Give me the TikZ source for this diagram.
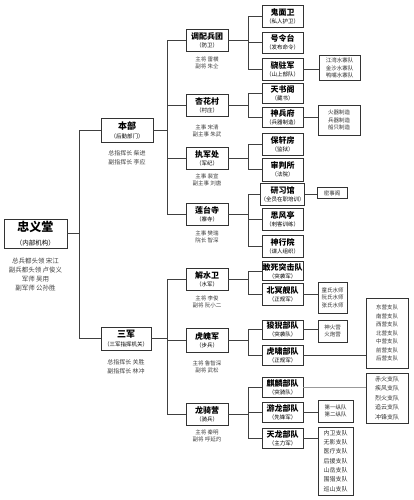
\documentclass[tikz,border=0pt]{standalone}
\usepackage{fontspec}
\setmainfont{Noto Sans CJK SC}
\usetikzlibrary{positioning}

% second line of a box: the smaller caption in brackets
\newcommand{\subt}[1]{\\[-1pt]{\mdseries\fontsize{5.5}{6.5}\selectfont #1}}

\begin{document}
\begin{tikzpicture}[
  x=1pt, y=-1pt,
  font=\fontsize{6}{7}\selectfont,
  rootbox/.style={draw=black!80, line width=0.8pt, fill=white, align=center,
    inner sep=0pt, minimum width=63, minimum height=29,
    font=\bfseries\fontsize{12}{13}\selectfont},
  deptbox/.style={draw=black!80, line width=0.8pt, fill=white, align=center,
    inner sep=0pt, minimum width=52, minimum height=24,
    font=\bfseries\fontsize{9}{10}\selectfont},
  unitbox/.style={draw=black!80, line width=0.8pt, fill=white, align=center,
    inner sep=0pt, minimum width=42, minimum height=22,
    font=\bfseries\fontsize{8}{9}\selectfont},
  teambox/.style={draw=black!80, line width=0.8pt, fill=white, align=center,
    inner sep=0pt, minimum width=41, minimum height=21,
    font=\bfseries\fontsize{8}{9}\selectfont},
  listbox/.style={draw=black!80, line width=0.6pt, fill=white, align=center,
    inner sep=1pt, text=black!80, font=\fontsize{5.5}{7.5}\selectfont},
  note/.style={align=center, inner sep=0pt, text=black!75,
    font=\fontsize{5.5}{7}\selectfont},
  link/.style={draw=black!75, line width=0.7pt},
  faintlink/.style={draw=black!40, line width=0.7pt},
]

\useasboundingbox (0,0) rectangle (413,500);

% ---- 1. bus lines (x of each vertical run) ----
\pgfmathsetmacro{\busA}{79}    % root -> departments
\pgfmathsetmacro{\busB}{167}   % departments -> units
\pgfmathsetmacro{\busC}{248}   % units -> teams
\coordinate (busA) at (\busA,0);
\coordinate (busB) at (\busB,0);
\coordinate (busC) at (\busC,0);

% ---- 2. root and departments ----
\node[rootbox] (zyt) at (35.5,233.5) {忠义堂\\[1pt]{\mdseries\fontsize{6.5}{7.5}\selectfont （内部机构）}};
\node[note, below=9pt of zyt, font=\fontsize{6.5}{9}\selectfont] (zytN)
  {总兵都头领\ 宋江\\副兵都头领\ 卢俊义\\军师\ 吴用\\副军师\ 公孙胜};

\node[deptbox] (bb) at (127,130.5) {本部\subt{（后勤部门）}};
\node[note, below=7pt of bb, font=\fontsize{6}{9}\selectfont] (bbN)
  {总指挥长\ 柴进\\副指挥长\ 李应};

\node[deptbox, minimum width=50, minimum height=23] (sj) at (126,338.5) {三军\subt{（三军指挥机关）}};
\node[note, below=9pt of sj, font=\fontsize{6}{9}\selectfont] (sjN)
  {总指挥长\ 关胜\\副指挥长\ 林冲};

% ---- 3. units ----
\node[unitbox] (tpbt) at (207,40)    {调配兵团\subt{（防卫）}};
\node[unitbox] (xhc)  at (207,105.5) {杏花村\subt{（村庄）}};
\node[unitbox] (zjc)  at (207,158)   {执军处\subt{（军纪）}};
\node[unitbox] (ltss) at (207,214)   {莲台寺\subt{（寨寺）}};
\node[unitbox] (jsw)  at (207,279)   {解水卫\subt{（水军）}};
\node[unitbox, minimum height=24] (hpj) at (207,340) {虎魄军\subt{（步兵）}};
\node[unitbox] (lqy)  at (207,414)   {龙骑营\subt{（骑兵）}};

\node[note, below=5pt of tpbt] (tpbtN) {主将\ 雷横\\副将\ 朱仝};
\node[note, below=8pt of xhc]  (xhcN)  {主事\ 宋清\\副主事\ 朱武};
\node[note, below=4pt of zjc]  (zjcN)  {主事\ 裴宣\\副主事\ 刘唐};
\node[note, below=5pt of ltss] (ltssN) {主事\ 樊瑞\\院长\ 智深};
\node[note, below=5pt of jsw]  (jswN)  {主将\ 李俊\\副将\ 阮小二};
\node[note, below=8pt of hpj]  (hpjN)  {主将\ 鲁智深\\副将\ 武松};
\node[note, below=4pt of lqy]  (lqyN)  {主将\ 秦明\\副将\ 呼延灼};

% ---- 4. teams ----
\node[teambox, minimum height=22] (gmw)  at (282.5,16)    {鬼面卫\subt{（私人护卫）}};
\node[teambox] (hlt)  at (282.5,42.5)  {号令台\subt{（发布命令）}};
\node[teambox, minimum height=22] (xzj)  at (282.5,69)    {骁驻军\subt{（山上部队）}};
\node[teambox, minimum height=20] (tsg)  at (282.5,93)    {天书阁\subt{（藏书）}};
\node[teambox, minimum height=20] (sbf)  at (282.5,117)   {神兵府\subt{（兵器制造）}};
\node[teambox, minimum height=22] (bxf)  at (282.5,144)   {保轩房\subt{（监狱）}};
\node[teambox, minimum height=23] (spsh) at (282.5,169.5) {审判所\subt{（法院）}};
\node[teambox, minimum height=22] (yxg)  at (282.5,194)   {研习馆\subt{（全员在职培训）}};
\node[teambox, minimum height=22] (sft)  at (282.5,219)   {思风亭\subt{（刺客训练）}};
\node[teambox, minimum height=22] (sxy)  at (282.5,246)   {神行院\subt{（谍人组织）}};
\node[teambox, minimum height=19] (gsd)  at (282.5,271)   {敢死突击队\subt{（突袭军）}};
\node[teambox, minimum height=22] (bmj)  at (282.5,294)   {北冥舰队\subt{（正规军）}};
\node[teambox, minimum height=19] (sybd) at (282.5,329.5) {狻猊部队\subt{（突袭队）}};
\node[teambox, minimum height=20] (hxbd) at (282.5,355)   {虎啸部队\subt{（正规军）}};
\node[teambox, minimum height=20] (qlbd) at (282.5,387)   {麒麟部队\subt{（突骑队）}};
\node[teambox, minimum height=20] (ylbd) at (282.5,412)   {游龙部队\subt{（先锋军）}};
\node[teambox, minimum height=20] (tlbd) at (282.5,438)   {天龙部队\subt{（主力军）}};

% ---- 5. lists on the right ----
\node[listbox, minimum width=41, minimum height=25] (szl) at (339.5,68)
  {江湾水寨队\\金沙水寨队\\鸭嘴水寨队};
\node[listbox, minimum width=42, minimum height=30] (zzl) at (339,120)
  {火器制造\\兵器制造\\船只制造};
\node[listbox, minimum width=30, minimum height=11] (msg) at (332,193) {密事阁};
\node[listbox, minimum width=29, minimum height=31] (ssl) at (332.5,297.5)
  {童氏水师\\阮氏水师\\张氏水师};
\node[listbox, minimum width=29, minimum height=22] (hyl) at (332.5,331)
  {神火营\\火炮营};
\node[listbox, minimum width=42, minimum height=70, font=\fontsize{5.5}{8.5}\selectfont] (dzd) at (387,333)
  {东营支队\\南营支队\\西营支队\\北营支队\\中营支队\\前营支队\\后营支队};
\node[listbox, minimum width=42, minimum height=50, font=\fontsize{6}{9.6}\selectfont] (qll) at (387,398)
  {赤火支队\\疾风支队\\烈火支队\\追云支队\\冲锋支队};
\node[listbox, minimum width=35, minimum height=22] (zdl) at (335.5,411)
  {第一纵队\\第二纵队};
\node[listbox, minimum width=35, minimum height=68, font=\fontsize{6}{9.3}\selectfont] (jzd) at (335.5,461)
  {内卫支队\\无影支队\\医疗支队\\后援支队\\山岳支队\\围猎支队\\巡山支队};

% ---- 6. connectors ----
\draw[link] (zyt.east) -- (zyt.east -| busA);
\draw[link] (bb.west) -- (bb.west -| busA) |- (sj.west);

\draw[link] (bb.east) -- (bb.east -| busB);
\draw[link] (tpbt.west) -- (tpbt.west -| busB) |- (ltss.west);
\draw[link] (xhc.west) -- (xhc.west -| busB);
\draw[link] (zjc.west) -- (zjc.west -| busB);

\draw[link] (sj.east) -- (sj.east -| busB);
\draw[link] (jsw.west) -- (jsw.west -| busB) |- (lqy.west);
\draw[link] (hpj.west) -- (hpj.west -| busB);

% units to teams
\draw[link] (tpbt.east) -- (tpbt.east -| busC);
\draw[link] (gmw.west) -- (gmw.west -| busC) |- (xzj.west);
\draw[link] (hlt.west) -- (hlt.west -| busC);

\draw[link] (xhc.east) -- (xhc.east -| busC);
\draw[link] (tsg.west) -- (tsg.west -| busC) |- (sbf.west);

\draw[link] (zjc.east) -- (zjc.east -| busC);
\draw[link] (bxf.west) -- (bxf.west -| busC) |- (spsh.west);

\draw[link] (ltss.east) -- (ltss.east -| busC);
\draw[link] (yxg.west) -- (yxg.west -| busC) |- (sxy.west);
\draw[link] (sft.west) -- (sft.west -| busC);

\draw[link] (jsw.east) -- (jsw.east -| busC);
\draw[link] (gsd.west) -- (gsd.west -| busC) |- (bmj.west);

\draw[link] (hpj.east) -- (hpj.east -| busC);
\draw[link] (sybd.west) -- (sybd.west -| busC) |- (hxbd.west);

\draw[link] (lqy.east) -- (lqy.east -| busC);
\draw[link] (qlbd.west) -- (qlbd.west -| busC) |- (tlbd.west);
\draw[link] (ylbd.west) -- (ylbd.west -| busC);

% teams to lists
\draw[link] (xzj.east) -- (xzj.east -| szl.west);
\draw[link] (sbf.east) -- (sbf.east -| zzl.west);
\draw[link] (yxg.east) -- (yxg.east -| msg.west);
\draw[link] (bmj.east) -- (bmj.east -| ssl.west);
\draw[link] (sybd.east) -- (sybd.east -| hyl.west);
\draw[link] (hxbd.east) -- (hxbd.east -| dzd.west);
\draw[faintlink] (qlbd.east) -- (qlbd.east -| qll.west);
\draw[link] (ylbd.east) -- (ylbd.east -| zdl.west);
\draw[link] (tlbd.east) -- (tlbd.east -| jzd.west);

\end{tikzpicture}
\end{document}
